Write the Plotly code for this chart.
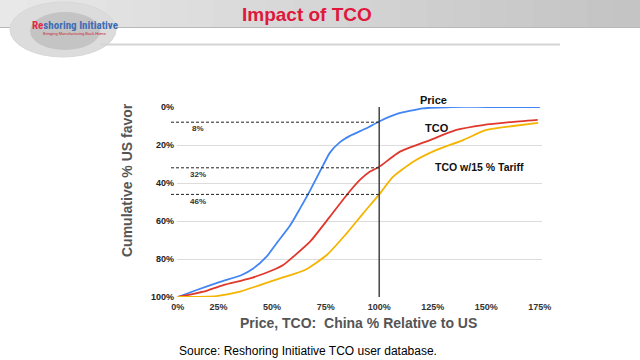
import plotly.graph_objects as go

# ---------------- data ----------------
price_x = [6, 14.8, 25.7, 35.8, 41.2, 47.4, 52.1, 58.3, 63, 67.7, 73.9, 77, 81.7, 86.3, 94, 100, 108, 120.5, 134, 150, 175]
price_y = [100, 96.3, 92, 88.4, 85, 78.8, 71.7, 62.5, 53.5, 44, 30.5, 24, 18.5, 15.2, 11.2, 7.6, 3.8, 0.7, 0, 0, 0]

tco_x = [6, 17.9, 27.2, 39.7, 51.3, 55.2, 59.9, 67.7, 77, 85.5, 91, 95.7, 100, 109.7, 123.7, 136, 148.5, 161, 174]
tco_y = [100, 97.2, 93.7, 90.2, 85.4, 83.2, 78.8, 70.9, 57.7, 45.4, 38.4, 34, 31.5, 23.5, 17.4, 12.1, 9.5, 8, 6.8]

tariff_x = [6, 24, 35, 44.3, 53.7, 65.3, 75.5, 84.8, 92.5, 100, 106.5, 115.9, 126.8, 139.2, 150, 162.5, 174.2]
tariff_y = [100, 99.5, 97.2, 93.7, 90.2, 85.8, 77.9, 66.5, 56, 46, 36.7, 28.8, 22.6, 17.4, 12.1, 10, 8.3]

x_tick_vals = [6, 25, 50, 75, 100, 125, 150, 175]
x_tick_text = ["0%", "25%", "50%", "75%", "100%", "125%", "150%", "175%"]
y_tick_vals = [0, 20, 40, 60, 80, 100]
y_tick_text = ["0%", "20%", "40%", "60%", "80%", "100%"]

ref_x = 100
ref_levels = [8, 32, 46]
ref_labels = ["8%", "32%", "46%"]

series_names = ["Price", "TCO", "TCO w/15 % Tariff"]
series_colors = ["#4285f4", "#e0382c", "#f4b400"]

# ---------------- layout helpers ----------------
W, H = 640, 360
L, R, T, B = 177, 542, 107, 297
XR = [5.6, 176]


def pxx(p):
    return (p - L) / (R - L)


def pxy(p):
    return (B - p) / (B - T)


def dx(v):
    return (v - XR[0]) / (XR[1] - XR[0])


fig = go.Figure()
for xs, ys, name, col in zip([price_x, tco_x, tariff_x], [price_y, tco_y, tariff_y], series_names, series_colors):
    fig.add_trace(go.Scatter(x=xs, y=ys, mode="lines", name=name,
                             line=dict(color=col, width=1.8, shape="spline", smoothing=0.6),
                             hoverinfo="skip"))

shapes = []
# header gradient band
n = 24
for i in range(n):
    g = int(232 - (232 - 196) * i / (n - 1))
    shapes.append(dict(type="rect", xref="paper", yref="paper",
                       x0=pxx(i * W / n), x1=pxx((i + 1) * W / n + 1),
                       y0=pxy(27), y1=pxy(0), line=dict(width=0),
                       fillcolor=f"rgb({g},{g},{g})", layer="below"))
shapes.append(dict(type="line", xref="paper", yref="paper", x0=pxx(0), x1=pxx(W),
                   y0=pxy(27.5), y1=pxy(27.5), line=dict(color="#b8b8b8", width=1)))
# logo globe
shapes.append(dict(type="circle", xref="paper", yref="paper", x0=pxx(10), x1=pxx(116),
                   y0=pxy(57), y1=pxy(2), line=dict(color="#d8d8d8", width=1),
                   fillcolor="#dcdcdc"))
shapes.append(dict(type="circle", xref="paper", yref="paper", x0=pxx(30), x1=pxx(100),
                   y0=pxy(50), y1=pxy(12), line=dict(width=0),
                   fillcolor="#c4c4c4"))
# thin header rule
shapes.append(dict(type="line", xref="paper", yref="paper", x0=pxx(100), x1=pxx(560),
                   y0=pxy(44.5), y1=pxy(44.5), line=dict(color="#d4d4d4", width=2)))
# dashed reference lines (start a little left of the plot area)
for lv in ref_levels:
    shapes.append(dict(type="line", xref="paper", yref="y", x0=pxx(171), x1=dx(ref_x), y0=lv, y1=lv,
                       line=dict(color="#222222", width=1, dash="3px,2px")))
# vertical reference line
shapes.append(dict(type="line", xref="x", yref="y", x0=ref_x, x1=ref_x, y0=-1.2, y1=100,
                   line=dict(color="#444444", width=1.5)))

C = dict(xanchor="center", yanchor="middle", showarrow=False)
ann = []
ann.append(dict(text="<b>Impact of TCO</b>", xref="paper", yref="paper", x=pxx(307), y=pxy(14),
                font=dict(family="Arial", size=19, color="#e0173c"), **C))
ann.append(dict(text="<b><span style='color:#e3284a'>Re</span>shoring Initiative</b>", xref="paper", yref="paper",
                x=pxx(75), y=pxy(25),
                font=dict(family="Liberation Sans Narrow, Arial Narrow, Roboto Condensed, Arial", size=11,
                          color="#3d6db5"), **C))
ann.append(dict(text="Bringing Manufacturing Back Home", xref="paper", yref="paper",
                x=pxx(75), y=pxy(34),
                font=dict(family="Arial", size=4, color="#d0203a"), **C))
for lv, lb in zip(ref_levels, ref_labels):
    ann.append(dict(text=f"<b>{lb}</b>", x=15.4, y=lv + 3.5, xref="x", yref="y",
                    font=dict(family="Arial", size=8, color="#333333"), **C))
ann.append(dict(text="<b>Price</b>", xref="paper", yref="paper", x=pxx(433), y=pxy(100),
                font=dict(family="Arial", size=11, color="#111111"), **C))
ann.append(dict(text="<b>TCO</b>", x=127, y=11, xref="x", yref="y",
                font=dict(family="Arial", size=11, color="#111111"), **C))
ann.append(dict(text="<b>TCO w/15 % Tariff</b>", x=147, y=31.6, xref="x", yref="y",
                font=dict(family="Arial", size=10.5, color="#111111"), **C))
ann.append(dict(text="<b>Cumulative % US favor</b>", xref="paper", yref="paper", x=pxx(127), y=pxy(180),
                textangle=-90, font=dict(family="Arial", size=14, color="#555555"), **C))
ann.append(dict(text="<b>Price, TCO:  China % Relative to US</b>", xref="paper", yref="paper",
                x=pxx(358), y=pxy(323),
                font=dict(family="Arial", size=14, color="#555555"), **C))
ann.append(dict(text="Source: Reshoring Initiative TCO user database.", xref="paper", yref="paper",
                x=pxx(308), y=pxy(351),
                font=dict(family="Arial", size=12, color="#000000"), **C))

fig.update_layout(
    width=W, height=H,
    margin=dict(l=L, r=W - R, t=T, b=H - B, pad=0),
    paper_bgcolor="white", plot_bgcolor="white",
    showlegend=False,
    shapes=shapes, annotations=ann,
    xaxis=dict(range=XR, tickvals=x_tick_vals, ticktext=x_tick_text,
               showgrid=False, zeroline=False, showline=False, ticks="",
               tickfont=dict(family="Arial", size=9, color="#333333", weight="bold"), ticklabelstandoff=3),
    yaxis=dict(range=[100, 0], tickvals=y_tick_vals, ticktext=y_tick_text,
               showgrid=True, gridcolor="#dcdcdc", gridwidth=1, zeroline=False, showline=False, ticks="",
               tickfont=dict(family="Arial", size=9, color="#222222", weight="bold"), ticklabelstandoff=2),
    font=dict(family="Arial"),
)
fig.write_html("out.html", config=dict(displayModeBar=False),
               post_script="document.body.style.margin='0';document.body.style.overflow='hidden';")
